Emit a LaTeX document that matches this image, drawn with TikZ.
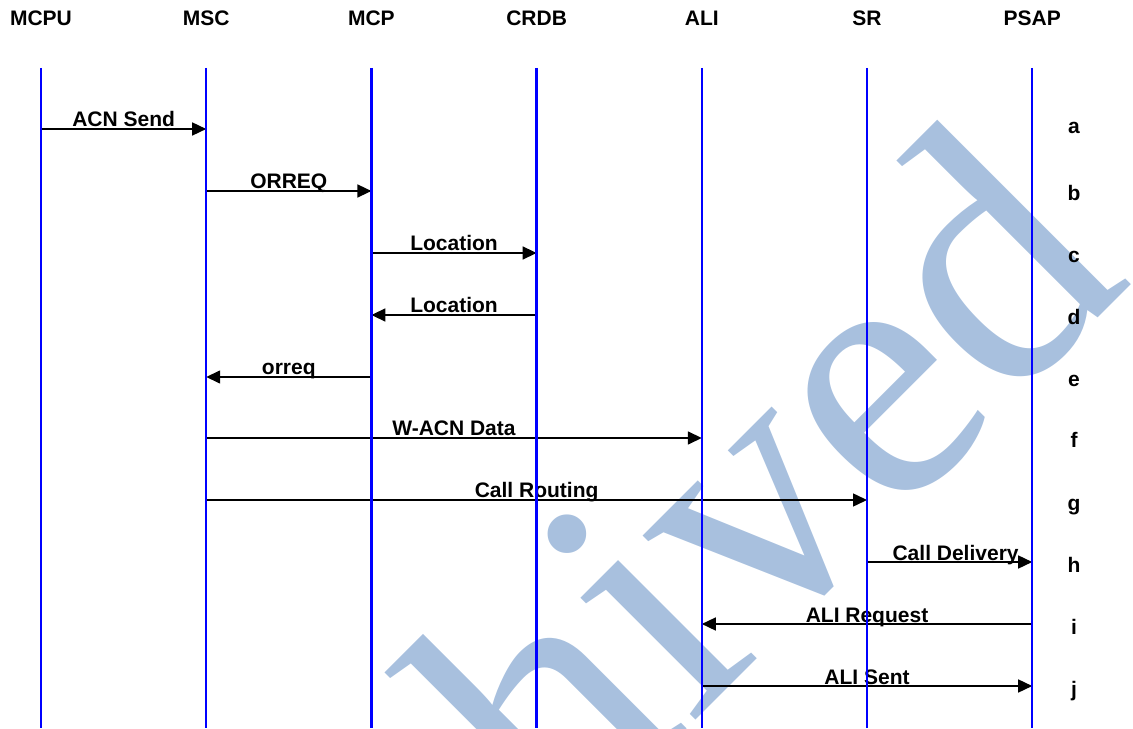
\documentclass[tikz,border=0pt]{standalone}
\usepackage{fontspec}
\setmainfont{Liberation Sans}
\newfontfamily\stampfont{Liberation Serif}
\usetikzlibrary{arrows.meta}
\definecolor{stampblue}{RGB}{168,192,222}
\tikzset{
	lifeline/.style={blue, line width=1.2pt},
	msg/.style={->, line width=0.75pt},
	msglabel/.style={anchor=base, inner sep=0pt, yshift=1pt},
	steptag/.style={anchor=base, inner sep=0pt},
}
\begin{document}
\begin{tikzpicture}[x=0.5pt, y=0.5pt, font=\bfseries\fontsize{10.5}{12}\selectfont, line join=round, >={Triangle[length=7pt,width=6.5pt]}]
	\useasboundingbox (0,0) rectangle (1133,728);
	% watermark
	\begin{scope}
		\clip (0,0) rectangle (1133,728);
		\node[anchor=base west, rotate=45, inner sep=0pt, text=stampblue, font=\stampfont\fontsize{182.5}{182.5}\selectfont] (stamp) at (174,-514) {Archived};
	\end{scope}
	% entities
	\foreach \p [count=\i from 0] in {MCPU,MSC,MCP,CRDB,ALI,SR,PSAP}{
		\path (41+165.2*\i,660) coordinate (\p-top) (41+165.2*\i,0) coordinate (\p-bot);
		\node (\p) at (41+165.2*\i,710) {\p};
	}
	\foreach \r/\y in {a/599, b/537, c/475, d/413, e/351, f/290, g/228, h/166, i/104, j/42}{\coordinate (row-\r) at (0,\y);}
	% messages
	\foreach \r/\s/\t/\txt/\dx in {a/MCPU/MSC/ACN Send/0, b/MSC/MCP/ORREQ/0, c/MCP/CRDB/Location/0, d/CRDB/MCP/Location/0, e/MCP/MSC/orreq/0, f/MSC/ALI/W-ACN Data/0, g/MSC/SR/Call Routing/0, h/SR/PSAP/Call Delivery/6, i/PSAP/ALI/ALI Request/0, j/ALI/PSAP/ALI Sent/0}{
		\draw[msg] (\s-top |- row-\r) -- (\t-top |- row-\r) node[msglabel, pos=0.5, xshift=\dx*0.5pt] (lbl-\r) {\txt};
	}
	\foreach \p in {MCPU,MSC,MCP,CRDB,ALI,SR,PSAP}{\draw[lifeline] (\p-top)--(\p-bot);}
	% step letters
	\foreach \r/\y in {a/594, b/527, c/465, d/403, e/341, f/280, g/218, h/156, i/94, j/32}{\node[steptag] (tag-\r) at (1074,\y) {\r};}
\end{tikzpicture}
\end{document}
